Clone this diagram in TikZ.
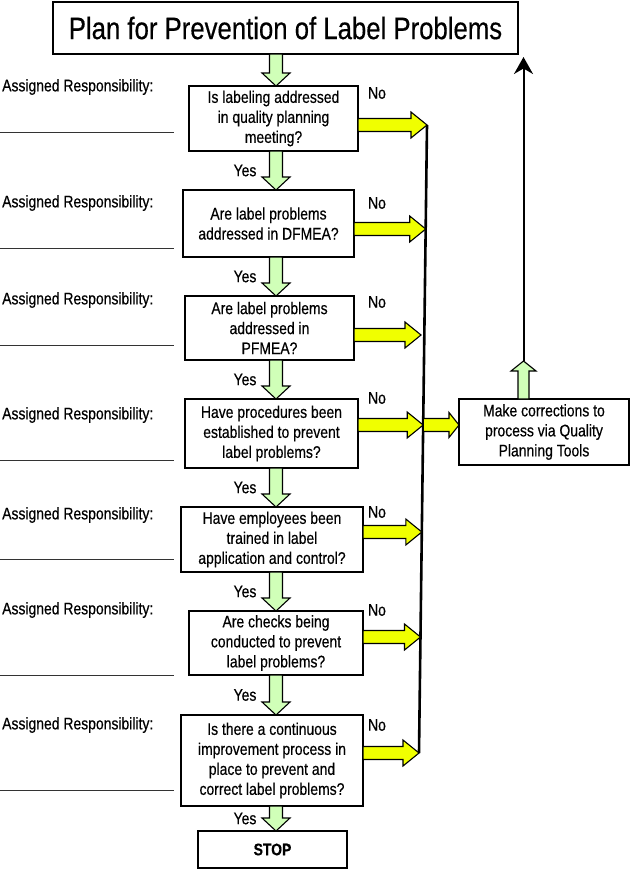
\documentclass[tikz,border=0pt]{standalone}
\usepackage{fontspec}
\setmainfont{Liberation Sans}[FakeStretch=0.83,FakeBold=0.4]
\usetikzlibrary{calc,arrows.meta}
\definecolor{lgreen}{RGB}{208,255,184}
\definecolor{yel}{RGB}{240,255,0}
\newcommand\gdown[2]{\filldraw[garr] let \p1=(#1.south), \p2=(#2.north) in
  (276pt-6.5pt,\y1) -- (276pt-6.5pt,\y2+13pt) -- (276pt-14pt,\y2+13pt) -- (276pt,\y2)
  -- (276pt+14pt,\y2+13pt) -- (276pt+6.5pt,\y2+13pt) -- (276pt+6.5pt,\y1) -- cycle;}
\newcommand\yright[2]{\filldraw[yarr] let \p1=(#1.east), \p2=(#2) in
  (\x1,\y2-6.5pt) -- (\x2-16pt,\y2-6.5pt) -- (\x2-16pt,\y2-13pt) -- (\x2,\y2)
  -- (\x2-16pt,\y2+13pt) -- (\x2-16pt,\y2+6.5pt) -- (\x1,\y2+6.5pt) -- cycle;}
\begin{document}
\begin{tikzpicture}[x=1pt,y=-1pt,
  txt/.style={font=\fontsize{16.8}{20}\selectfont},
  qbox/.style={txt, draw, line width=1.3pt, fill=white, align=center, inner sep=0pt, outer sep=0pt},
  lbl/.style={txt, inner sep=0pt},
  yarr/.style={draw=black, fill=yel, line width=1.1pt, line join=miter},
  garr/.style={draw=black, fill=lgreen, line width=1.1pt, line join=miter},
  uline/.style={line width=0.8pt, draw=black!80}]
\useasboundingbox (0,0) rectangle (631,871);
\fill[white] (0,0) rectangle (631,871);

% title
\node[qbox, line width=1.5pt, minimum width=465pt, minimum height=52pt, font=\fontsize{31}{36}\selectfont] (title) at (285.5,28) {Plan for Prevention of Label Problems};

% question boxes
\node[qbox, minimum width=169pt, minimum height=65pt] (b1) at (273.5,118.5) {Is labeling addressed\\in quality planning\\meeting?};
\node[qbox, minimum width=171pt, minimum height=67pt] (b2) at (268.5,223.5) {Are label problems\\addressed in DFMEA?};
\node[qbox, minimum width=169pt, minimum height=64pt] (b3) at (269.5,328) {Are label problems\\addressed in\\PFMEA?};
\node[qbox, minimum width=173pt, minimum height=69pt] (b4) at (271.5,433.5) {Have procedures been\\established to prevent\\label problems?};
\node[qbox, minimum width=182pt, minimum height=65pt] (b5) at (272,539.5) {Have employees been\\trained in label\\application and control?};
\node[qbox, minimum width=174pt, minimum height=64pt] (b6) at (276,643) {Are checks being\\conducted to prevent\\label problems?};
\node[qbox, minimum width=182pt, minimum height=91pt] (b7) at (272,760.5) {Is there a continuous\\improvement process in\\place to prevent and\\correct label problems?};
\node[qbox, minimum width=149pt, minimum height=37pt, font=\fontsize{16.8}{20}\selectfont\bfseries] (stop) at (272.5,849.5) {STOP};
\node[qbox, minimum width=170pt, minimum height=66pt] (corr) at (544,432) {Make corrections to\\process via Quality\\Planning Tools};

% green down arrows
\gdown{title}{b1}
\gdown{b1}{b2}
\gdown{b2}{b3}
\gdown{b3}{b4}
\gdown{b4}{b5}
\gdown{b5}{b6}
\gdown{b6}{b7}
\gdown{b7}{stop}

% Yes labels
\foreach \yy in {170.5,276.5,379.5,487.5,591.5,695,818.5}
  \node[lbl] at (245,\yy) {Yes};

% No labels
\foreach \yy in {93,203,302,398,512,610,725}
  \node[lbl] at (377,\yy) {No};

% assigned responsibility
\foreach \ty/\uy in {87/132,203/248,300/345,415/460,515/559,610/675,725/790}{
  \node[lbl, anchor=west] at (2,\ty) {Assigned Responsibility:};
  \draw[uline] (0,\uy) -- (174,\uy);
}

% collecting line
\coordinate (T1) at (427,125);
\coordinate (T2) at (425.7,229);
\coordinate (T3) at (421,335);
\coordinate (T4) at (423.2,425);
\coordinate (T5) at (421.8,532);
\coordinate (T6) at (420.5,637);
\coordinate (T7) at (419,753);
\draw[line width=2.6pt] (T1) -- (T7);

% yellow No arrows
\yright{b1}{T1}
\yright{b2}{T2}
\yright{b3}{T3}
\yright{b4}{T4}
\yright{b5}{T5}
\yright{b6}{T6}
\yright{b7}{T7}

% arrow to corrections
\filldraw[yarr] let \p1=(T4), \p2=(corr.west) in
  (\x1,\y1-6.5pt) -- (\x2-10pt,\y1-6.5pt) -- (\x2-10pt,\y1-12.5pt) -- (\x2,\y1)
  -- (\x2-10pt,\y1+12.5pt) -- (\x2-10pt,\y1+6.5pt) -- (\x1,\y1+6.5pt) -- cycle;

% green up arrow and return line
\coordinate (up) at (523.5,361);
\coordinate (upend) at (523.5,57);
\filldraw[garr] let \p1=(corr.north), \p2=(up) in
  (\x2-5.5pt,\y1) -- (\x2-5.5pt,\y2-10pt) -- (\x2-12.5pt,\y2-10pt) -- (\x2,\y2)
  -- (\x2+12.5pt,\y2-10pt) -- (\x2+5.5pt,\y2-10pt) -- (\x2+5.5pt,\y1) -- cycle;
\draw[line width=2pt, -{Stealth[length=17pt,width=19pt]}] (up) -- (upend);
\end{tikzpicture}
\end{document}
